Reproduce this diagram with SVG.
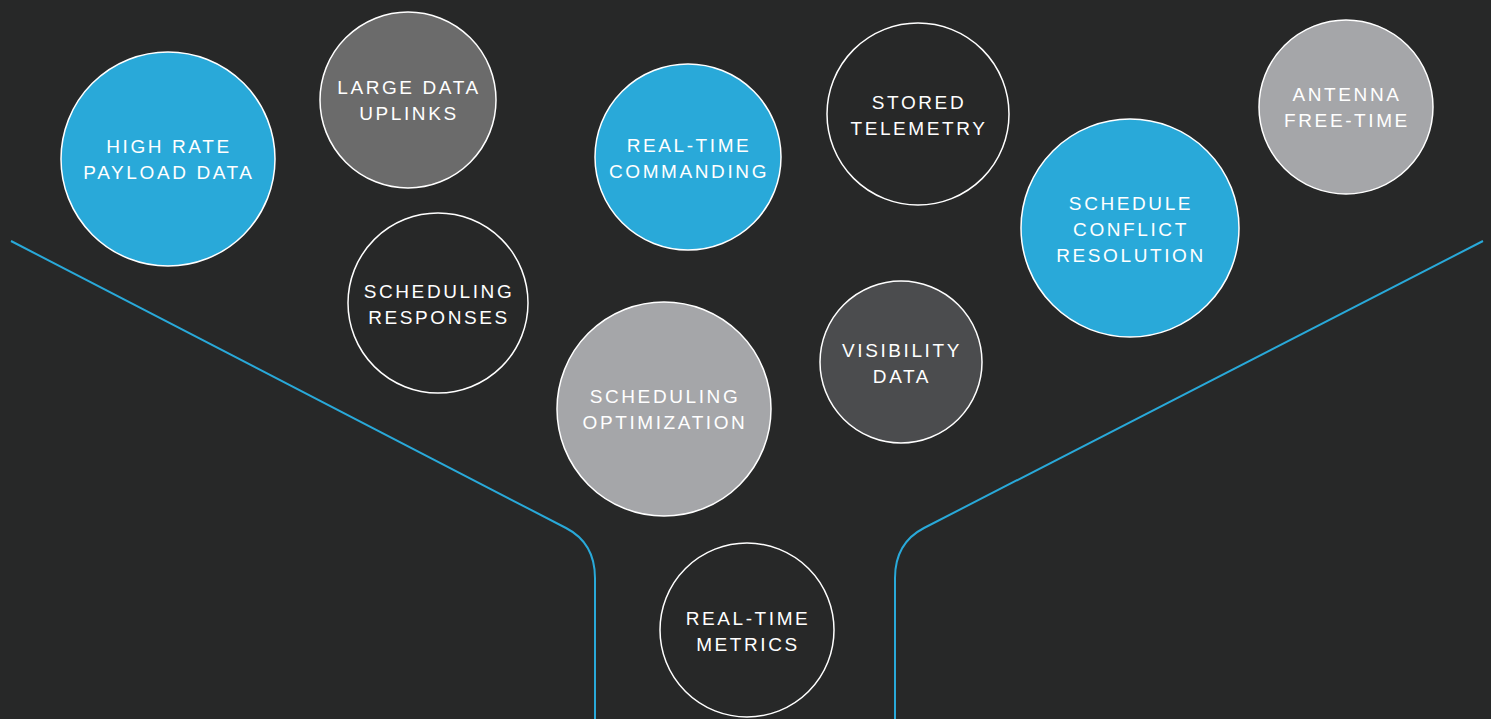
<svg xmlns="http://www.w3.org/2000/svg" width="1491" height="719" viewBox="0 0 1491 719">
<style>
.n{stroke:#ffffff;stroke-width:1.5}
.blue{fill:#29a9d9}
.gray{fill:#6b6b6b}
.light{fill:#a5a6a9}
.darkgray{fill:#4b4c4e}
.dark{fill:#272828}
text{font-family:"Liberation Sans",Arial,sans-serif;font-size:19px;letter-spacing:2.6px;fill:#ffffff;text-anchor:middle}
.f{fill:none;stroke:#29a9d9;stroke-width:2}
</style>
<rect width="1491" height="719" fill="#272828"/>
<g id="connectors">
<path class="f" d="M11 241 L566 528 Q595 543 595 578 L595 719"/>
<path class="f" d="M1483 241 L924 528 Q895 543 895 578 L895 719"/>
</g>
<g id="high-rate"><circle class="n blue" cx="168" cy="159" r="107"/><text x="169" y="153">HIGH RATE</text><text x="169" y="179">PAYLOAD DATA</text></g>
<g id="large-data"><circle class="n gray" cx="408" cy="100" r="88"/><text x="409" y="94">LARGE DATA</text><text x="409" y="120">UPLINKS</text></g>
<g id="real-time-cmd"><circle class="n blue" cx="688" cy="157" r="93"/><text x="689" y="152">REAL-TIME</text><text x="689" y="178">COMMANDING</text></g>
<g id="stored"><circle class="n dark" cx="918" cy="114" r="91"/><text x="919" y="109">STORED</text><text x="919" y="135">TELEMETRY</text></g>
<g id="antenna"><circle class="n light" cx="1346" cy="107" r="87"/><text x="1347" y="101">ANTENNA</text><text x="1347" y="127">FREE-TIME</text></g>
<g id="conflict"><circle class="n blue" cx="1130" cy="228" r="109"/><text x="1131" y="210">SCHEDULE</text><text x="1131" y="236">CONFLICT</text><text x="1131" y="262">RESOLUTION</text></g>
<g id="sched-resp"><circle class="n dark" cx="438" cy="303" r="90"/><text x="439" y="298">SCHEDULING</text><text x="439" y="324">RESPONSES</text></g>
<g id="sched-opt"><circle class="n light" cx="664" cy="409" r="107"/><text x="665" y="403">SCHEDULING</text><text x="665" y="429">OPTIMIZATION</text></g>
<g id="visibility"><circle class="n darkgray" cx="901" cy="362" r="81"/><text x="902" y="357">VISIBILITY</text><text x="902" y="383">DATA</text></g>
<g id="metrics"><circle class="n dark" cx="747" cy="630" r="87"/><text x="748" y="625">REAL-TIME</text><text x="748" y="651">METRICS</text></g>
</svg>
